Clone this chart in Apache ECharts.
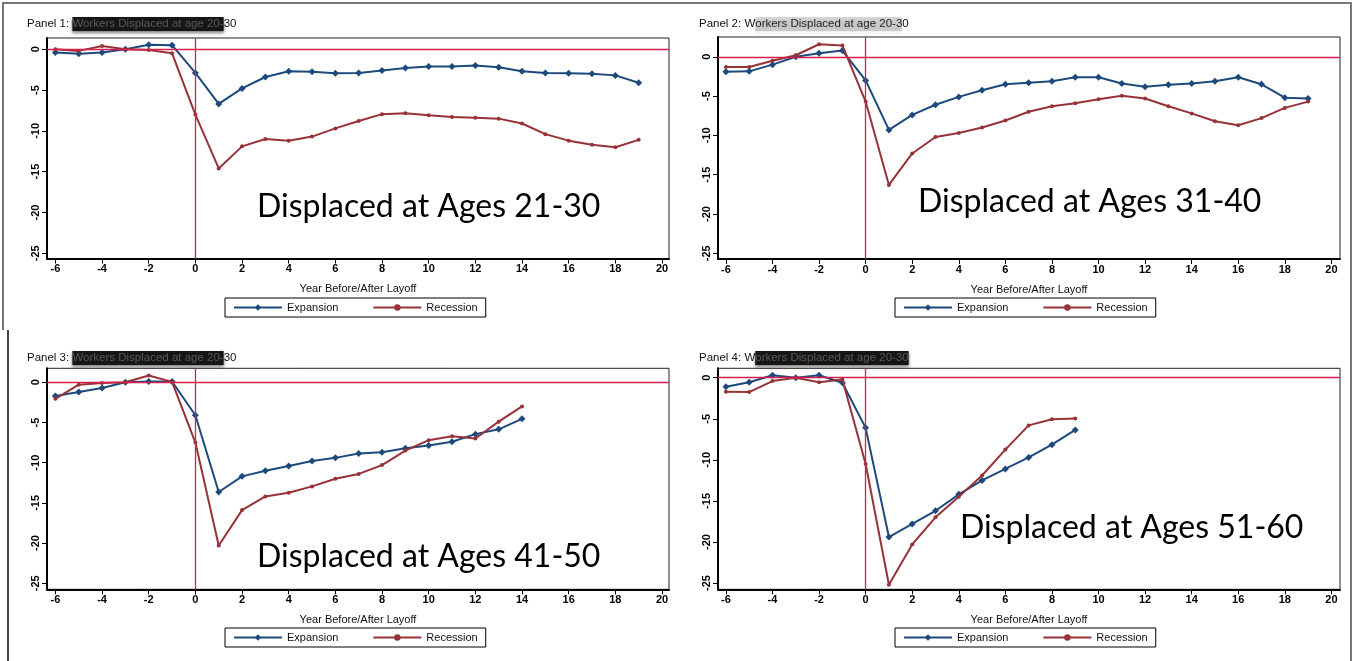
<!DOCTYPE html>
<html>
<head>
<meta charset="utf-8">
<script src="https://cdn.jsdelivr.net/npm/echarts@6/dist/echarts.min.js"></script>
<style>
html,body{margin:0;padding:0;background:#fff;}
#chart{width:1357px;height:661px;}
</style>
</head>
<body>
<div id="chart"></div>
<script>
// ---- data ----
const yearsLong = [-6,-5,-4,-3,-2,-1,0,1,2,3,4,5,6,7,8,9,10,11,12,13,14,15,16,17,18,19];
const years14 = [-6,-5,-4,-3,-2,-1,0,1,2,3,4,5,6,7,8,9,10,11,12,13,14];
const years9 = [-6,-5,-4,-3,-2,-1,0,1,2,3,4,5,6,7,8,9];

const p1Expansion = [-0.4,-0.55,-0.4,0,0.55,0.5,-2.9,-6.7,-4.8,-3.4,-2.7,-2.75,-2.95,-2.9,-2.6,-2.3,-2.1,-2.1,-2.0,-2.2,-2.7,-2.9,-2.95,-3.0,-3.2,-4.1];
const p1Recession = [0.0,-0.2,0.4,0,-0.1,-0.5,-8.0,-14.6,-11.9,-11.0,-11.2,-10.7,-9.7,-8.8,-7.95,-7.85,-8.1,-8.3,-8.4,-8.5,-9.1,-10.4,-11.2,-11.7,-12.0,-11.1];

const p2Expansion = [-1.9,-1.85,-1.0,0,0.45,0.8,-3.0,-9.3,-7.4,-6.1,-5.1,-4.25,-3.5,-3.3,-3.1,-2.6,-2.6,-3.4,-3.8,-3.55,-3.4,-3.1,-2.6,-3.5,-5.2,-5.3];
const p2Recession = [-1.3,-1.3,-0.5,0.2,1.6,1.45,-5.7,-16.3,-12.3,-10.2,-9.7,-9.0,-8.1,-7.0,-6.3,-5.9,-5.4,-4.95,-5.3,-6.3,-7.2,-8.2,-8.7,-7.8,-6.5,-5.7];

const p3Expansion = [-1.7,-1.2,-0.7,0,0.1,0.1,-4.1,-13.65,-11.7,-11.0,-10.4,-9.8,-9.4,-8.85,-8.7,-8.2,-7.85,-7.4,-6.45,-5.85,-4.55];
const p3Recession = [-2.05,-0.3,-0.1,0,0.85,0.05,-7.5,-20.3,-15.9,-14.2,-13.75,-12.95,-12.0,-11.4,-10.3,-8.5,-7.2,-6.7,-7.0,-4.9,-3.0];

const p4Expansion = [-1.1,-0.55,0.3,0,0.3,-0.6,-6.1,-19.4,-17.8,-16.2,-14.2,-12.5,-11.1,-9.7,-8.15,-6.35];
const p4Recession = [-1.7,-1.75,-0.4,0,-0.55,-0.2,-10.5,-25.2,-20.3,-17.0,-14.5,-11.9,-8.75,-5.8,-5.05,-4.95];

const xTicks = [-6,-4,-2,0,2,4,6,8,10,12,14,16,18,20];
const yTicks = [0,-5,-10,-15,-20,-25];
const seriesNames = ['Expansion','Recession'];
const xAxisTitle = 'Year Before/After Layoff';
const panelLabels = ['Panel 1: ','Panel 2: W','Panel 3: ','Panel 4: W'];
const panelHidden = ['Workers Displaced at age 20-','orkers Displaced at age 20-3','Workers Displaced at age 20-','orkers Displaced at age 20-30'];
const panelTails = ['30','0','30',''];
const annotations = ['Displaced at Ages 21-30','Displaced at Ages 31-40','Displaced at Ages 41-50','Displaced at Ages 51-60'];

const panelData = [
  {years: yearsLong, exp: p1Expansion, rec: p1Recession},
  {years: yearsLong, exp: p2Expansion, rec: p2Recession},
  {years: years14, exp: p3Expansion, rec: p3Recession},
  {years: years9, exp: p4Expansion, rec: p4Recession}
];

// ---- layout ----
const layout = [
  {left:47, top:38, width:622, height:220.5, xmin:-6.36, xmax:20.3, ymin:-25.64, ymax:1.38, title:[22,12], legend:[225,298], ann:[257,212]},
  {left:718, top:37, width:622, height:222, xmin:-6.34, xmax:20.37, ymin:-25.73, ymax:2.52, title:[694,12], legend:[895,298], ann:[918,207]},
  {left:47, top:368.3, width:622, height:221, xmin:-6.36, xmax:20.3, ymin:-25.75, ymax:1.74, title:[22,346], legend:[225,628], ann:[257,562]},
  {left:718, top:368.3, width:622, height:221, xmin:-6.34, xmax:20.37, ymin:-25.76, ymax:1.15, title:[694,346], legend:[895,628], ann:[960,533]}
];

const BLUE = '#1d4a7c';
const RED = '#973239';
const REF = '#d3204c';
const FONT = '"Liberation Sans", Arial, sans-serif';

const grids = [], xAxes = [], yAxes = [], series = [], titles = [], legends = [], graphics = [];

layout.forEach((L, i) => {
  grids.push({left:L.left, top:L.top, width:L.width, height:L.height, show:true, borderColor:'#222', borderWidth:1, backgroundColor:'#fff', containLabel:false});
  xAxes.push({
    type:'value', gridIndex:i, min:L.xmin, max:L.xmax,
    axisLine:{show:true, onZero:false, lineStyle:{color:'#000', width:2}},
    axisTick:{show:true, length:5, lineStyle:{color:'#000', width:1}, customValues:xTicks},
    axisLabel:{color:'#000', fontSize:11, fontWeight:'bold', fontFamily:FONT, margin:5, customValues:xTicks},
    splitLine:{show:false},
    name:xAxisTitle, nameLocation:'middle', nameGap:25,
    nameTextStyle:{color:'#111', fontSize:11, fontFamily:FONT}
  });
  yAxes.push({
    type:'value', gridIndex:i, min:L.ymin, max:L.ymax,
    axisLine:{show:true, onZero:false, lineStyle:{color:'#000', width:2}},
    axisTick:{show:true, length:5, lineStyle:{color:'#000', width:1}, customValues:yTicks},
    axisLabel:{color:'#000', fontSize:11, fontWeight:'bold', fontFamily:FONT, rotate:90, margin:6, customValues:yTicks},
    splitLine:{show:false}
  });
  const d = panelData[i];
  series.push({
    name:seriesNames[0], type:'line', xAxisIndex:i, yAxisIndex:i,
    data:d.years.map((y, k) => [y, d.exp[k]]),
    symbol:'diamond', symbolSize:7, showAllSymbol:true,
    lineStyle:{color:BLUE, width:2}, itemStyle:{color:BLUE},
    z:3, animation:false,
    markLine:{silent:true, symbol:'none', animation:false, label:{show:false},
      lineStyle:{color:REF, width:1.3, type:'solid'},
      data:[{xAxis:0},{yAxis:0}]}
  });
  series.push({
    name:seriesNames[1], type:'line', xAxisIndex:i, yAxisIndex:i,
    data:d.years.map((y, k) => [y, d.rec[k]]),
    symbol:'circle', symbolSize:4, showAllSymbol:true,
    lineStyle:{color:RED, width:2}, itemStyle:{color:RED},
    z:4, animation:false
  });
  titles.push({
    left:L.title[0], top:L.title[1],
    text:'{a|' + panelLabels[i] + '}{b|' + panelHidden[i] + '}' + (panelTails[i] ? '{a|' + panelTails[i] + '}' : ''),
    textStyle:{fontWeight:'normal', rich:{
      a:{fontSize:11.5, fontWeight:'normal', fontFamily:FONT, color:'#111'},
      b:{fontSize:11.5, fontWeight:'normal', fontFamily:FONT, color:(i===1 ? '#222' : '#5a5a5a'), backgroundColor:(i===1 ? 'rgba(0,0,0,0.15)' : '#161616'),
         shadowColor:'rgba(0,0,0,0.5)', shadowBlur:3, shadowOffsetY:2, padding:[1,0,1,0]}
    }}
  });
  legends.push({
    data:seriesNames, left:L.legend[0], top:L.legend[1], orient:'horizontal',
    itemWidth:48, itemHeight:8, itemGap:34, padding:[4,8,4,8],
    borderColor:'#000', borderWidth:1, backgroundColor:'#fff', selectedMode:false,
    textStyle:{color:'#111', fontSize:11, fontFamily:FONT}
  });
  graphics.push({
    type:'text', left:L.ann[0], top:L.ann[1] - 21,
    style:{text:annotations[i], fill:'#000', font:'32px Lato, "Open Sans", sans-serif'},
    z:100
  });
});

// outer frame
graphics.push({type:'polyline', shape:{points:[[3,330],[3,3],[1351,3],[1351,661]]}, style:{stroke:'#777', lineWidth:2, fill:null}, z:0, silent:true});
graphics.push({type:'line', shape:{x1:8, y1:330, x2:8, y2:661}, style:{stroke:'#444', lineWidth:2}, z:0, silent:true});

const chart = echarts.init(document.getElementById('chart'), null, {renderer:'canvas'});
chart.setOption({
  animation:false,
  backgroundColor:'#fff',
  title:titles,
  legend:legends,
  grid:grids,
  xAxis:xAxes,
  yAxis:yAxes,
  series:series,
  graphic:graphics
});
</script>
</body>
</html>
